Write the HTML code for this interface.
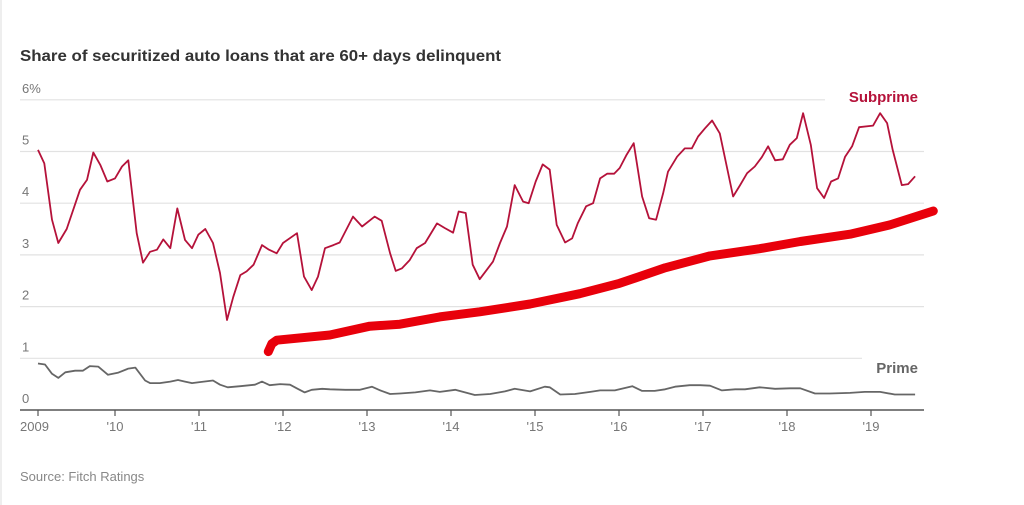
<!DOCTYPE html>
<html><head><meta charset="utf-8"><style>
html,body{margin:0;padding:0;background:#fff;}
svg{display:block;font-family:"Liberation Sans",sans-serif;}
</style></head><body>
<svg id="chart" width="1024" height="505" viewBox="0 0 1024 505">
<line x1="1" y1="0" x2="1" y2="505" stroke="#eee" stroke-width="2"/>
<text x="20" y="61" font-size="16" font-weight="bold" fill="#333" textLength="481" lengthAdjust="spacingAndGlyphs">Share of securitized auto loans that are 60+ days delinquent</text>
<g id="grid"></g>
<g id="ylabels"></g>
<g id="xaxis"></g>
<g id="series"></g>
<text x="918" y="102" font-size="15" font-weight="bold" fill="#b5123a" text-anchor="end">Subprime</text>
<text x="918" y="373" font-size="15" font-weight="bold" fill="#666" text-anchor="end">Prime</text>
<text x="20" y="481" font-size="13" fill="#888">Source: Fitch Ratings</text>
</svg>
<script>
const yTicks = [0,1,2,3,4,5,6];
const yTickLabels = ["0","1","2","3","4","5","6%"];
const xTickMonths = [0,11,23,35,47,59,71,83,95,107,119];
const xTickLabels = ["2009","'10","'11","'12","'13","'14","'15","'16","'17","'18","'19"];
// months since start of series
const subMonths = [0,0.9,2,2.9,4.1,6,7,7.9,8.9,9.9,11,12,12.9,14.1,15,16,17,17.9,18.9,19.9,21,22,22.9,23.9,25,26,27,27.9,28.9,29.8,30.8,32,33,34.1,35,37,38,39.1,40,41,42.2,43.1,45,46.3,48.1,49.1,50.3,51.1,52,53.1,54.1,55.3,57,58.1,59.3,60.1,61.1,62.1,63.1,64.1,65,66,67,68.1,69.3,70.1,71.1,72.1,73.1,74.1,75.3,76.3,77.1,78.3,79.3,80.3,81.3,82.3,83.1,84.1,85.1,86.3,87.3,88.3,89.3,90,91.3,92.4,93.4,94.3,95.3,96.3,97.4,99.3,100.3,101.3,102.4,103.4,104.3,105.3,106.4,107.4,108.4,109.3,110.4,111.3,112.3,113.3,114.3,115.3,116.3,117.3,119.3,120.3,121.3,122.1,123.4,124.3,125.3];
const subValues = [5.03,4.77,3.68,3.23,3.5,4.26,4.45,4.98,4.74,4.42,4.48,4.71,4.83,3.42,2.85,3.06,3.1,3.3,3.13,3.9,3.29,3.13,3.39,3.5,3.23,2.65,1.74,2.19,2.61,2.68,2.81,3.19,3.1,3.03,3.23,3.42,2.58,2.32,2.58,3.13,3.19,3.24,3.74,3.55,3.74,3.66,3.03,2.69,2.74,2.9,3.13,3.23,3.61,3.52,3.43,3.84,3.81,2.81,2.53,2.71,2.87,3.23,3.55,4.35,4.03,4.0,4.42,4.75,4.65,3.58,3.24,3.32,3.61,3.94,4.0,4.48,4.57,4.57,4.68,4.94,5.16,4.13,3.71,3.68,4.19,4.61,4.9,5.06,5.06,5.29,5.45,5.6,5.35,4.13,4.35,4.58,4.71,4.89,5.1,4.83,4.85,5.13,5.26,5.74,5.13,4.29,4.1,4.42,4.48,4.9,5.1,5.47,5.5,5.74,5.55,5.03,4.35,4.37,4.52];
const primeMonths = [0,1,2,2.9,3.9,5.3,6.4,7.4,8.6,10,11.4,12.9,13.9,15.3,16,17.4,18.9,20,21,22,23.1,25,26,27.1,28.9,31,32,33.1,34.6,36,37.1,38.1,39.1,40.6,41.7,43.9,46,47.7,48.9,50.3,51.7,53.9,56,57.4,59.6,61,62.4,64.6,66.7,68.1,70.3,72.4,73.1,74.6,76.7,78.9,80.3,82.4,84.9,86.3,88.1,89.6,91,93.1,94.6,96,97.7,99.6,101,103.1,105.3,107.4,108.9,111,113.1,116,118.1,120.3,122.4,125.3];
const primeValues = [0.9,0.88,0.7,0.62,0.73,0.76,0.76,0.85,0.84,0.68,0.72,0.8,0.82,0.57,0.52,0.52,0.55,0.58,0.55,0.52,0.54,0.57,0.49,0.44,0.46,0.49,0.55,0.48,0.5,0.49,0.41,0.34,0.39,0.41,0.4,0.39,0.39,0.45,0.38,0.31,0.32,0.34,0.38,0.35,0.39,0.34,0.29,0.31,0.36,0.41,0.36,0.45,0.44,0.3,0.31,0.35,0.38,0.38,0.46,0.37,0.37,0.4,0.45,0.48,0.48,0.47,0.38,0.4,0.4,0.44,0.41,0.42,0.42,0.32,0.32,0.33,0.35,0.35,0.3,0.3];
const trendMonths = [32.9,33.4,34.1,41.7,47.4,51.7,57.4,63.1,70.3,77.4,83.1,89.6,96,103.1,108.9,116,121.7,127.9];
const trendValues = [1.13,1.28,1.35,1.45,1.62,1.66,1.8,1.9,2.05,2.25,2.45,2.75,2.98,3.12,3.26,3.4,3.58,3.85];

const NS = "http://www.w3.org/2000/svg";
const X0 = 38, PX_PER_MONTH = 7, Y0 = 410, PX_PER_UNIT = 51.7;
function xm(m){ return X0 + m*PX_PER_MONTH; }
function yv(v){ return Y0 - v*PX_PER_UNIT; }
function mk(tag, attrs, parent){ const e=document.createElementNS(NS,tag); for(const k in attrs) e.setAttribute(k,attrs[k]); parent.appendChild(e); return e; }

const grid=document.getElementById('grid'), yl=document.getElementById('ylabels'), xa=document.getElementById('xaxis'), ser=document.getElementById('series');
yTicks.forEach((t,i)=>{
  if(t>0){
    const x2 = t===6 ? 825 : (t===1 ? 862 : 924);
    const l=mk('line',{x1:20,x2:x2,y1:yv(t),y2:yv(t),stroke:'#e2e2e2','stroke-width':1.2},grid);
    
    
  }
  const tx=mk('text',{x:22,y:yv(t)-7,'font-size':13,fill:'#777'},yl);
  tx.textContent=yTickLabels[i];
  
  
});
const ax=mk('line',{x1:20,x2:924,y1:Y0,y2:Y0,stroke:'#555','stroke-width':1.5},xa);


xTickMonths.forEach((m,i)=>{
  const x=xm(m);
  const tk=mk('line',{x1:x,x2:x,y1:Y0,y2:Y0+6,stroke:'#555','stroke-width':1.2},xa);
  
  
  const tx=mk('text',{x:i===0?20:x,y:431,'font-size':13,fill:'#777','text-anchor':i===0?'start':'middle'},xa);
  tx.textContent=xTickLabels[i];
  
  
});
function path(ms,vs){ return ms.map((m,i)=>(i?'L':'M')+xm(m).toFixed(1)+','+yv(vs[i]).toFixed(1)).join(''); }
const tr=mk('path',{d:path(trendMonths,trendValues),fill:'none',stroke:'#e8000b','stroke-width':9,'stroke-linejoin':'round','stroke-linecap':'round'},ser);


const sp=mk('path',{d:path(subMonths,subValues),fill:'none',stroke:'#b5123a','stroke-width':1.8,'stroke-linejoin':'round'},ser);


const pr=mk('path',{d:path(primeMonths,primeValues),fill:'none',stroke:'#666','stroke-width':1.8,'stroke-linejoin':'round'},ser);


</script>
</body></html>
